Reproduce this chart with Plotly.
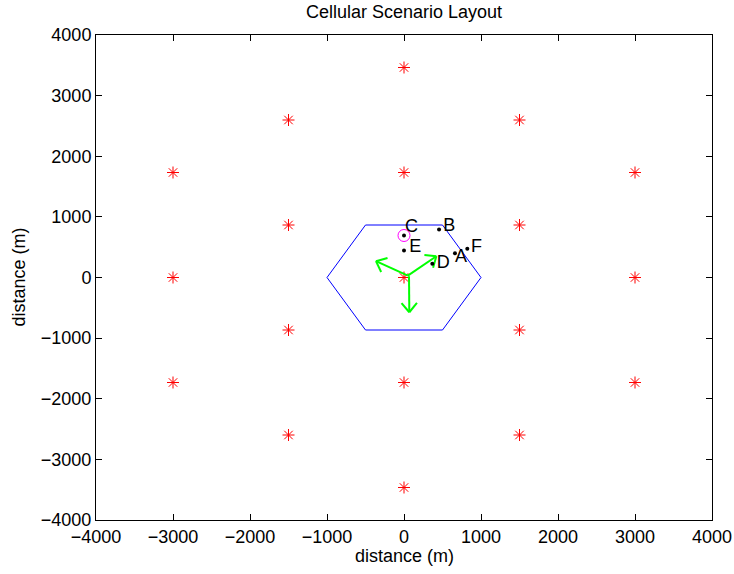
import math
from plotly import graph_objects as go

# base stations (m)
bs_x = [0, 0, 0, 0, 0, 1500, 1500, -1500, -1500, 1500, 1500, -1500, -1500, 3000, -3000, 3000, 3000, -3000, -3000]
bs_y = [0, 1732, -1732, 3464, -3464, 866, -866, 866, -866, 2598, -2598, 2598, -2598, 0, 0, 1732, -1732, 1732, -1732]

# serving cell outline
hex_x = [1000, 500, -500, -1000, -500, 500, 1000]
hex_y = [0, 866, 866, 0, -866, -866, 0]

# users
ue_names = ['A', 'B', 'C', 'D', 'E', 'F']
ue_x = [662, 455, 0, 368, 0, 822]
ue_y = [401, 792, 693, 226, 446, 474]
label_x = [662, 510, 13, 425, 69, 870]
label_y = [335, 842, 830, 231, 487, 487]
serving_ue = 'C'

# sector antenna directions
arrow_x0 = [50, 50, 65]
arrow_y0 = [30, 30, 20]
arrow_x1 = [420, -364, 69]
arrow_y1 = [350, 269, -573]

W, H = 734, 574
L, R, T, B = 96, 22, 35, 54
px_x = (W - L - R) / 8000.0
px_y = (H - T - B) / 8000.0

fig = go.Figure()

fig.add_trace(go.Scatter(x=hex_x, y=hex_y, mode='lines',
                         line=dict(color='#0000ff', width=1), hoverinfo='skip'))

fig.add_trace(go.Scatter(x=bs_x, y=bs_y, mode='markers',
                         marker=dict(symbol='asterisk-open', size=10, color='#ff0000',
                                     line=dict(color='#ff0000', width=1))))

# arrows: stem + open V head, head built in pixel space
head_len, head_ang = 12, math.radians(40)
ax, ay = [], []
for x0, y0, x1, y1 in zip(arrow_x0, arrow_y0, arrow_x1, arrow_y1):
    dx, dy = (x1 - x0) * px_x, (y1 - y0) * px_y
    ang = math.atan2(dy, dx)
    ax += [x0, x1, None]
    ay += [y0, y1, None]
    for s in (1, -1):
        a = ang + math.pi + s * head_ang
        ax += [x1 + head_len * math.cos(a) / px_x, x1, None]
        ay += [y1 + head_len * math.sin(a) / px_y, y1, None]
fig.add_trace(go.Scatter(x=ax, y=ay, mode='lines',
                         line=dict(color='#00ff00', width=2), hoverinfo='skip'))

i = ue_names.index(serving_ue)
fig.add_trace(go.Scatter(x=[ue_x[i]], y=[ue_y[i]], mode='markers',
                         marker=dict(symbol='circle-open', size=12, color='#ff00ff',
                                     line=dict(color='#ff00ff', width=1))))

fig.add_trace(go.Scatter(x=ue_x, y=ue_y, mode='markers',
                         marker=dict(symbol='circle', size=4, color='black')))

fig.add_trace(go.Scatter(x=label_x, y=label_y, mode='text', text=ue_names,
                         textposition='middle right',
                         textfont=dict(size=18, color='black')))

fig.update_layout(
    template='none',
    width=W, height=H, showlegend=False,
    margin=dict(l=L, r=R, t=T, b=B, autoexpand=False),
    paper_bgcolor='white', plot_bgcolor='white',
    font=dict(family='Liberation Sans, Arial, sans-serif', size=18, color='black'),
    title=dict(text='Cellular Scenario Layout', x=0.5, xref='paper', xanchor='center',
               y=1 - 12 / H, yref='container', yanchor='middle',
               font=dict(size=18, color='black')),
    annotations=[
        dict(text='distance (m)', xref='paper', yref='paper', x=0.5, y=-36 / (H - T - B),
             xanchor='center', yanchor='middle', showarrow=False, font=dict(size=18)),
        dict(text='distance (m)', xref='paper', yref='paper', x=-78 / (W - L - R), y=0.5,
             xanchor='center', yanchor='middle', showarrow=False, textangle=-90,
             font=dict(size=18)),
    ],
)

axis_style = dict(range=[-4000, 4000], dtick=1000, tick0=0, ticks='inside', ticklen=6,
                  tickwidth=1, tickcolor='black', showline=True, linecolor='black',
                  linewidth=1, mirror='ticks', showgrid=False, zeroline=False,
                  automargin=False)
fig.update_xaxes(**axis_style)
fig.update_yaxes(**axis_style)

# page body has an 8px default margin; drop it so the figure sits at 0,0
fig.write_html("out.html", config={'displayModeBar': False},
               post_script="document.body.style.margin='0';")
